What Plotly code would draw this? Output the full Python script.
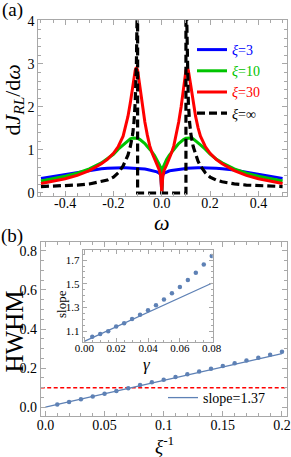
import plotly.graph_objects as go

# ---------------- Panel (a) data ----------------
omega = [-0.5, -0.45, -0.4, -0.35, -0.3, -0.25, -0.225, -0.2, -0.18, -0.16, -0.15, -0.14,
         -0.13, -0.12, -0.11, -0.105, -0.1, -0.09, -0.08, -0.07, -0.06, -0.05, -0.04, -0.03,
         -0.02, -0.01, -0.004, 0.0, 0.004, 0.01, 0.02, 0.03, 0.04, 0.05, 0.06, 0.07, 0.08,
         0.09, 0.1, 0.105, 0.11, 0.12, 0.13, 0.14, 0.15, 0.16, 0.18, 0.2, 0.225, 0.25, 0.3,
         0.35, 0.4, 0.45, 0.5]
xi3 = [0.34, 0.385, 0.435, 0.485, 0.535, 0.565, 0.575, 0.585, 0.588, 0.588, 0.587, 0.585,
       0.583, 0.58, 0.575, 0.572, 0.57, 0.565, 0.56, 0.555, 0.545, 0.535, 0.525, 0.51,
       0.49, 0.46, 0.42, 0.0, 0.42, 0.46, 0.49, 0.51, 0.525, 0.535, 0.545, 0.555, 0.56,
       0.565, 0.57, 0.572, 0.575, 0.58, 0.583, 0.585, 0.587, 0.588, 0.588, 0.585, 0.575,
       0.565, 0.535, 0.485, 0.435, 0.385, 0.34]
xi10 = [0.28, 0.33, 0.39, 0.46, 0.56, 0.7, 0.79, 0.9, 1.02, 1.12, 1.17, 1.22,
        1.26, 1.28, 1.28, 1.275, 1.27, 1.24, 1.2, 1.15, 1.08, 1.02, 0.95, 0.87,
        0.78, 0.66, 0.58, 0.0, 0.58, 0.66, 0.78, 0.87, 0.95, 1.02, 1.08, 1.15, 1.2,
        1.24, 1.27, 1.275, 1.28, 1.28, 1.26, 1.22, 1.17, 1.12, 1.02, 0.9, 0.79,
        0.7, 0.56, 0.46, 0.39, 0.33, 0.28]
xi30 = [0.22, 0.27, 0.33, 0.41, 0.52, 0.68, 0.78, 0.92, 1.08, 1.32, 1.52, 1.78,
        2.1, 2.5, 2.85, 2.92, 2.85, 2.45, 2.0, 1.65, 1.35, 1.1, 0.93, 0.78,
        0.65, 0.53, 0.38, 0.0, 0.38, 0.53, 0.65, 0.78, 0.93, 1.1, 1.35, 1.65, 2.0,
        2.45, 2.85, 2.92, 2.85, 2.5, 2.1, 1.78, 1.52, 1.32, 1.08, 0.92, 0.78,
        0.68, 0.52, 0.41, 0.33, 0.27, 0.22]
omega_inf = [-0.5, -0.45, -0.4, -0.35, -0.3, -0.25, -0.225, -0.2, -0.18, -0.16, -0.15, -0.14,
             -0.13, -0.12, -0.115, -0.11, -0.105, -0.1, -0.1, 0.1, 0.1, 0.105, 0.11, 0.115,
             0.12, 0.13, 0.14, 0.15, 0.16, 0.18, 0.2, 0.225, 0.25, 0.3, 0.35, 0.4, 0.45, 0.5]
xi_inf = [0.15, 0.16, 0.17, 0.185, 0.21, 0.26, 0.3, 0.37, 0.47, 0.63, 0.74, 0.88,
          1.08, 1.38, 1.65, 2.1, 3.0, 5.0, 0.0, 0.0, 5.0, 3.0, 2.1, 1.65,
          1.38, 1.08, 0.88, 0.74, 0.63, 0.47, 0.37, 0.3, 0.26, 0.21, 0.185, 0.17, 0.16, 0.15]

# ---------------- Panel (b) data ----------------
inv_xi = [0.01, 0.02, 0.03, 0.04, 0.05, 0.06, 0.07, 0.08, 0.09, 0.10,
          0.11, 0.12, 0.13, 0.14, 0.15, 0.16, 0.17, 0.18, 0.19, 0.20]
hwhm = [0.014, 0.027, 0.041, 0.055, 0.069, 0.083, 0.097, 0.113, 0.127, 0.141,
        0.155, 0.169, 0.183, 0.197, 0.211, 0.225, 0.239, 0.253, 0.268, 0.283]
fit_x = [0.0, 0.2]
fit_y = [0.0, 0.274]
thr_x = [-0.004, 0.204]
thr_y = [0.1, 0.1]

# inset
gamma = [0.005, 0.01, 0.015, 0.02, 0.025, 0.03, 0.035, 0.04,
         0.045, 0.05, 0.055, 0.06, 0.065, 0.07, 0.075, 0.08]
slope = [1.055, 1.078, 1.100, 1.140, 1.167, 1.203, 1.240, 1.278,
         1.320, 1.368, 1.420, 1.474, 1.533, 1.594, 1.663, 1.735]
slope_fit_x = [0.0, 0.08]
slope_fit_y = [1.015, 1.505]

# ---------------- styling ----------------
W, H = 291, 457
FONT = "Liberation Serif"
FRAME = "#a8a8a8"
PT = "#5e81b5"
BLUE, GREEN, RED = "#0000ff", "#00c400", "#ff0000"


def px(x):
    return x / W


def py(y):
    return 1 - y / H


def axis(domain, rng, anchor, tickvals, ticktext, minor_dtick, size=14, ticklen=5,
         standoff=0):
    return dict(domain=domain, range=rng, anchor=anchor, showline=True, linecolor=FRAME,
                linewidth=1, mirror="allticks", ticks="inside", ticklen=ticklen,
                tickcolor=FRAME, tickwidth=1, showgrid=False, zeroline=False,
                automargin=False, ticklabelstandoff=standoff,
                tickmode="array", tickvals=tickvals, ticktext=ticktext,
                tickfont=dict(family=FONT, size=size, color="black"),
                minor=dict(ticks="inside", ticklen=max(2, ticklen - 2), tickcolor=FRAME,
                           dtick=minor_dtick, showgrid=False),
                fixedrange=True)


fig = go.Figure()

# panel a
fig.add_trace(go.Scatter(x=omega, y=xi3, mode="lines", line=dict(color=BLUE, width=3),
                         name='<span style="color:#0000ff"><i>ξ</i>=3</span>',
                         xaxis="x", yaxis="y", legend="legend"))
fig.add_trace(go.Scatter(x=omega, y=xi10, mode="lines", line=dict(color=GREEN, width=3),
                         name='<span style="color:#00c400"><i>ξ</i>=10</span>',
                         xaxis="x", yaxis="y", legend="legend"))
fig.add_trace(go.Scatter(x=omega, y=xi30, mode="lines", line=dict(color=RED, width=3),
                         name='<span style="color:#ff0000"><i>ξ</i>=30</span>',
                         xaxis="x", yaxis="y", legend="legend"))
fig.add_trace(go.Scatter(x=omega_inf, y=xi_inf, mode="lines",
                         line=dict(color="black", width=3.2, dash="8px,4px"),
                         name='<i>ξ</i>=∞', xaxis="x", yaxis="y", legend="legend"))

# panel b
fig.add_trace(go.Scatter(x=thr_x, y=thr_y, mode="lines",
                         line=dict(color=RED, width=1.5, dash="4px,2.5px"),
                         showlegend=False, xaxis="x2", yaxis="y2"))
fig.add_trace(go.Scatter(x=fit_x, y=fit_y, mode="lines", line=dict(color=PT, width=1.3),
                         name="slope=1.37", xaxis="x2", yaxis="y2", legend="legend2"))
fig.add_trace(go.Scatter(x=inv_xi, y=hwhm, mode="markers", marker=dict(color=PT, size=4.5),
                         showlegend=False, xaxis="x2", yaxis="y2"))

# inset
fig.add_trace(go.Scatter(x=slope_fit_x, y=slope_fit_y, mode="lines",
                         line=dict(color=PT, width=1.2), showlegend=False,
                         xaxis="x3", yaxis="y3"))
fig.add_trace(go.Scatter(x=gamma, y=slope, mode="markers", marker=dict(color=PT, size=4.5),
                         showlegend=False, xaxis="x3", yaxis="y3"))

fig.update_layout(
    template="none",
    width=W, height=H, margin=dict(l=0, r=0, t=0, b=0, autoexpand=False),
    paper_bgcolor="white", plot_bgcolor="white",
    font=dict(family=FONT, size=14, color="black"),
    xaxis=axis([px(38.3), px(286.7)], [-0.511, 0.517], "y",
               [-0.4, -0.2, 0.0, 0.2, 0.4], ["-0.4", "-0.2", "0.0", "0.2", "0.4"], 0.05,
               standoff=-6),
    yaxis=axis([py(196), py(20)], [-0.07, 4.02], "x",
               [0, 1, 2, 3, 4], ["0", "1", "2", "3", "4"], 0.2),
    xaxis2=axis([px(40.7), px(286.7)], [-0.004, 0.204], "y2",
                [0.0, 0.05, 0.1, 0.15, 0.2], ["0.0", "0.05", "0.1", "0.15", "0.2"], 0.01,
                standoff=-4),
    yaxis2=axis([py(416), py(242)], [-0.045, 0.845], "x2",
                [0.0, 0.2, 0.4, 0.6, 0.8], ["0.0", "0.2", "0.4", "0.6", "0.8"], 0.05),
    xaxis3=axis([px(82.7), px(212.7)], [-0.001, 0.0806], "y3",
                [0.0, 0.02, 0.04, 0.06, 0.08], ["0.00", "0.02", "0.04", "0.06", "0.08"],
                0.005, size=11, ticklen=4, standoff=-4),
    yaxis3=axis([py(342), py(250)], [1.01, 1.785], "x3",
                [1.1, 1.3, 1.5, 1.7], ["1.1", "1.3", "1.5", "1.7"], 0.05, size=11, ticklen=4),
    legend=dict(x=px(192), y=py(34), xanchor="left", yanchor="top",
                bgcolor="rgba(0,0,0,0)", font=dict(family=FONT, size=14, color="black"),
                itemwidth=30, tracegroupgap=0),
    legend2=dict(x=px(163), y=py(382), xanchor="left", yanchor="top",
                 bgcolor="rgba(0,0,0,0)", font=dict(family=FONT, size=14, color="black"),
                 itemwidth=30),
    showlegend=True,
)

ann = [
    dict(text="(a)", x=px(12), y=py(10), font=dict(size=19)),
    dict(text="d<i>J</i><sub><i>RL</i></sub>/d<i>ω</i>", x=px(13.5), y=py(100),
         textangle=-90, font=dict(size=22)),
    dict(text="<i>ω</i>", x=px(161.7), y=py(222), font=dict(size=22)),
    dict(text="(b)", x=px(12), y=py(236), font=dict(size=19)),
    dict(text="HWHM", x=px(13.5), y=py(332), textangle=-90, font=dict(size=25)),
    dict(text="<i>ξ</i><sup>-1</sup>", x=px(164), y=py(445), font=dict(size=19)),
    dict(text="slope", x=px(61), y=py(304), textangle=-90, font=dict(size=13)),
    dict(text="<i>γ</i>", x=px(147), y=py(364), font=dict(size=17)),
]
for a in ann:
    a.update(xref="paper", yref="paper", showarrow=False, xanchor="center", yanchor="middle")
    a["font"] = dict(family=FONT, color="black", **a["font"])
fig.update_layout(annotations=ann)

fig.write_html("out.html", config={"displayModeBar": False},
               post_script="document.body.style.margin='0px';")
